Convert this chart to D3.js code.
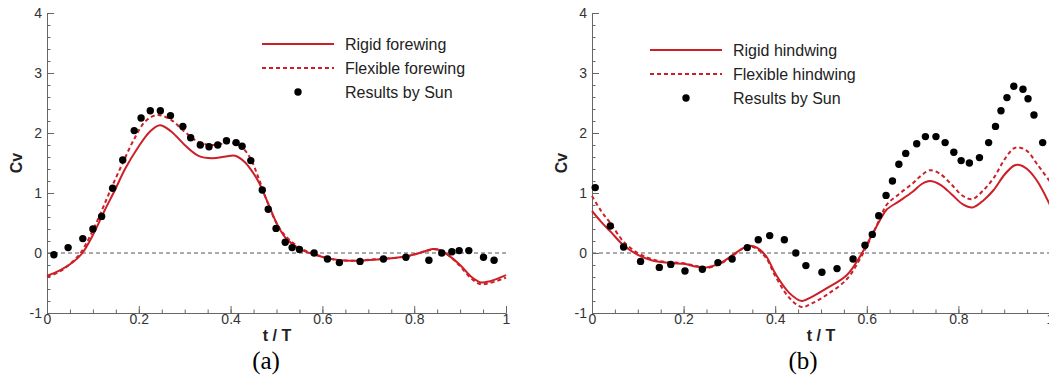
<!DOCTYPE html>
<html>
<head>
<meta charset="utf-8">
<script src="https://cdn.jsdelivr.net/npm/d3@7"></script>
<style>
  body { margin: 0; background: #fff; }
  svg { display: block; font-family: "Liberation Sans", Arial, sans-serif; }
</style>
</head>
<body>
<svg id="chart" width="1049" height="377"></svg>
<script>
// tick labels
var xTicks = [0, 0.2, 0.4, 0.6, 0.8, 1]
var xTickLabels = ["0", "0.2", "0.4", "0.6", "0.8", "1"]
var yTicks = [-1, 0, 1, 2, 3, 4]
var yTickLabels = ["-1", "0", "1", "2", "3", "4"]

// (a) forewing
var tRigidFore = [0, 0.03, 0.057, 0.077, 0.1, 0.125, 0.148, 0.17, 0.2, 0.225, 0.246, 0.27, 0.3, 0.33, 0.36, 0.39, 0.41, 0.43, 0.445, 0.46, 0.48, 0.5, 0.52, 0.55, 0.58, 0.62, 0.66, 0.72, 0.78, 0.82, 0.84, 0.855, 0.875, 0.9, 0.925, 0.945, 0.965, 1]
var cvRigidFore = [-0.38, -0.28, -0.15, 0.0, 0.3, 0.7, 1.05, 1.4, 1.78, 2.03, 2.13, 2.03, 1.8, 1.62, 1.58, 1.61, 1.62, 1.52, 1.38, 1.2, 0.86, 0.5, 0.25, 0.07, -0.02, -0.1, -0.13, -0.11, -0.06, 0.02, 0.065, 0.05, -0.04, -0.2, -0.4, -0.49, -0.47, -0.37]
var tFlexFore = [0, 0.03, 0.055, 0.075, 0.1, 0.12, 0.14, 0.165, 0.19, 0.215, 0.24, 0.27, 0.3, 0.33, 0.36, 0.39, 0.41, 0.43, 0.445, 0.46, 0.48, 0.5, 0.52, 0.55, 0.58, 0.62, 0.66, 0.72, 0.78, 0.82, 0.84, 0.855, 0.875, 0.9, 0.925, 0.945, 0.965, 1]
var cvFlexFore = [-0.4, -0.3, -0.15, 0.02, 0.38, 0.72, 1.08, 1.5, 1.9, 2.2, 2.3, 2.22, 2.02, 1.85, 1.8, 1.83, 1.82, 1.72, 1.55, 1.27, 0.85, 0.5, 0.28, 0.09, -0.01, -0.1, -0.13, -0.1, -0.06, 0.02, 0.06, 0.05, -0.04, -0.22, -0.43, -0.52, -0.5, -0.41]
var tSunFore = [0.015, 0.046, 0.078, 0.1, 0.119, 0.143, 0.165, 0.19, 0.205, 0.225, 0.247, 0.269, 0.296, 0.313, 0.334, 0.353, 0.372, 0.391, 0.412, 0.425, 0.444, 0.469, 0.482, 0.499, 0.519, 0.534, 0.55, 0.582, 0.611, 0.637, 0.682, 0.733, 0.782, 0.832, 0.86, 0.882, 0.898, 0.919, 0.951, 0.974]
var cvSunFore = [-0.03, 0.09, 0.24, 0.4, 0.61, 1.08, 1.55, 2.04, 2.25, 2.37, 2.37, 2.29, 2.11, 1.92, 1.8, 1.77, 1.8, 1.87, 1.84, 1.78, 1.54, 1.05, 0.73, 0.41, 0.18, 0.09, 0.06, 0.0, -0.1, -0.16, -0.14, -0.1, -0.07, -0.12, 0.0, 0.02, 0.04, 0.04, -0.07, -0.12]

// (b) hindwing
var tHind = [0, 0.02, 0.04, 0.07, 0.1, 0.13, 0.16, 0.2, 0.23, 0.25, 0.28, 0.31, 0.33, 0.345, 0.36, 0.38, 0.4, 0.43, 0.458, 0.48, 0.512, 0.556, 0.585, 0.607, 0.629, 0.643, 0.67, 0.7, 0.72, 0.738, 0.76, 0.785, 0.81, 0.831, 0.855, 0.877, 0.9, 0.92, 0.931, 0.95, 0.972, 1]
var cvRigidHind = [0.7, 0.52, 0.36, 0.12, -0.03, -0.12, -0.16, -0.18, -0.23, -0.24, -0.17, -0.02, 0.08, 0.12, 0.09, -0.05, -0.34, -0.66, -0.8, -0.73, -0.59, -0.37, -0.06, 0.24, 0.55, 0.72, 0.86, 1.02, 1.15, 1.2, 1.14, 0.98, 0.81, 0.76, 0.88, 1.05, 1.3, 1.45, 1.47, 1.4, 1.2, 0.8]
var cvFlexHind = [0.95, 0.7, 0.5, 0.18, 0.0, -0.1, -0.15, -0.17, -0.22, -0.25, -0.18, -0.03, 0.08, 0.11, 0.07, -0.08, -0.38, -0.74, -0.9, -0.84, -0.7, -0.44, -0.1, 0.22, 0.58, 0.8, 0.98, 1.16, 1.3, 1.38, 1.32, 1.14, 0.95, 0.9, 1.05, 1.25, 1.55, 1.74, 1.76, 1.7, 1.48, 1.19]
var tSunHind = [0.007, 0.04, 0.069, 0.106, 0.147, 0.172, 0.203, 0.241, 0.275, 0.306, 0.339, 0.363, 0.388, 0.42, 0.445, 0.467, 0.502, 0.535, 0.57, 0.596, 0.612, 0.626, 0.642, 0.656, 0.67, 0.685, 0.709, 0.728, 0.751, 0.771, 0.79, 0.806, 0.824, 0.846, 0.866, 0.881, 0.893, 0.906, 0.921, 0.941, 0.952, 0.965, 0.984]
var cvSunHind = [1.09, 0.45, 0.1, -0.14, -0.24, -0.19, -0.3, -0.27, -0.16, -0.1, 0.09, 0.22, 0.29, 0.22, 0.0, -0.21, -0.32, -0.26, -0.1, 0.13, 0.31, 0.62, 0.96, 1.2, 1.48, 1.66, 1.82, 1.94, 1.94, 1.84, 1.68, 1.54, 1.5, 1.59, 1.84, 2.11, 2.37, 2.59, 2.78, 2.73, 2.57, 2.3, 1.84]

var red = "#cc1f27"
var axisGray = "#666"
var svg = d3.select("#chart")

function zip(ts, vs) { return ts.map((t, i) => [t, vs[i]]) }

function drawPanel(p) {
  var x = d3.scaleLinear().domain([0, 1]).range([p.left, p.right])
  var y = d3.scaleLinear().domain([-1, 4]).range([313, 13])
  var g = svg.append("g")

  // zero line
  g.append("line")
    .attr("x1", x(0)).attr("x2", x(1))
    .attr("y1", y(0)).attr("y2", y(0))
    .attr("stroke", "#555").attr("stroke-width", 1)
    .attr("stroke-dasharray", "4,3")

  // minor ticks
  g.append("g")
    .attr("transform", `translate(0,${y(-1)})`)
    .call(d3.axisBottom(x).tickValues(d3.range(0, 1.0001, 0.05)).tickSize(-3.5).tickSizeOuter(0).tickFormat(""))
  g.append("g")
    .attr("transform", `translate(${x(0)},0)`)
    .call(d3.axisLeft(y).tickValues(d3.range(-1, 4.0001, 0.2)).tickSize(-3.5).tickSizeOuter(0).tickFormat(""))

  // major ticks + labels
  g.append("g")
    .attr("transform", `translate(0,${y(-1)})`)
    .call(d3.axisBottom(x).tickValues(xTicks).tickSize(-7).tickSizeOuter(0).tickPadding(1)
      .tickFormat((d, i) => xTickLabels[i]))
  g.append("g")
    .attr("transform", `translate(${x(0)},0)`)
    .call(d3.axisLeft(y).tickValues(yTicks).tickSize(-7).tickSizeOuter(0).tickPadding(5)
      .tickFormat((d, i) => yTickLabels[i]))
  g.selectAll(".domain, .tick line").attr("stroke", axisGray)
  g.selectAll(".tick text").attr("fill", "#333").style("font-size", "14px")
    .style("font-family", "'Liberation Sans', Arial, sans-serif")

  var line = d3.line().x(d => x(d[0])).y(d => y(d[1])).curve(d3.curveCatmullRom.alpha(0.5))

  g.append("path").datum(zip(p.tRigid, p.cvRigid))
    .attr("fill", "none").attr("stroke", red).attr("stroke-width", 2)
    .attr("d", line)
  g.append("path").datum(zip(p.tFlex, p.cvFlex))
    .attr("fill", "none").attr("stroke", red).attr("stroke-width", 2)
    .attr("stroke-dasharray", "4,3")
    .attr("d", line)

  g.selectAll("circle.sun").data(zip(p.tSun, p.cvSun)).join("circle")
    .attr("class", "sun")
    .attr("cx", d => x(d[0])).attr("cy", d => y(d[1]))
    .attr("r", 3.7).attr("fill", "#000")

  // axis titles
  g.append("text")
    .attr("transform", `translate(${x(0) - 31},163) rotate(-90)`)
    .attr("text-anchor", "middle").attr("dy", "0.35em")
    .style("font-size", "16px").style("font-weight", "bold").attr("fill", "#222")
    .text("Cv")
  g.append("text")
    .attr("x", p.tTitleX).attr("y", 341)
    .attr("text-anchor", "middle")
    .style("font-size", "16px").style("font-weight", "bold").attr("fill", "#222")
    .text("t / T")
  g.append("text")
    .attr("x", p.capX).attr("y", 369)
    .attr("text-anchor", "middle")
    .style("font-family", "'Liberation Serif', 'Times New Roman', serif")
    .style("font-size", "25px").attr("fill", "#000")
    .text(p.caption)

  // legend
  var lg = g.append("g").attr("transform", `translate(${p.legX},${p.legY})`)
  lg.append("line").attr("x1", 0).attr("x2", 72).attr("y1", 0).attr("y2", 0)
    .attr("stroke", red).attr("stroke-width", 2)
  lg.append("line").attr("x1", 0).attr("x2", 72).attr("y1", 24).attr("y2", 24)
    .attr("stroke", red).attr("stroke-width", 2).attr("stroke-dasharray", "4,3")
  lg.append("circle").attr("cx", 36).attr("cy", 48).attr("r", 3.7).attr("fill", "#000")
  lg.selectAll("text").data(p.legend).join("text")
    .attr("x", 83).attr("y", (d, i) => i * 24 + 5.5)
    .style("font-size", "16px").attr("fill", "#222")
    .text(d => d)
}

drawPanel({
  left: 47, right: 506,
  tRigid: tRigidFore, cvRigid: cvRigidFore,
  tFlex: tFlexFore, cvFlex: cvFlexFore,
  tSun: tSunFore, cvSun: cvSunFore,
  legX: 262, legY: 44,
  legend: ["Rigid forewing", "Flexible forewing", "Results by Sun"],
  tTitleX: 277, capX: 266, caption: "(a)"
})

drawPanel({
  left: 592, right: 1050,
  tRigid: tHind, cvRigid: cvRigidHind,
  tFlex: tHind, cvFlex: cvFlexHind,
  tSun: tSunHind, cvSun: cvSunHind,
  legX: 650, legY: 50,
  legend: ["Rigid hindwing", "Flexible hindwing", "Results by Sun"],
  tTitleX: 821, capX: 803, caption: "(b)"
})
</script>
</body>
</html>
